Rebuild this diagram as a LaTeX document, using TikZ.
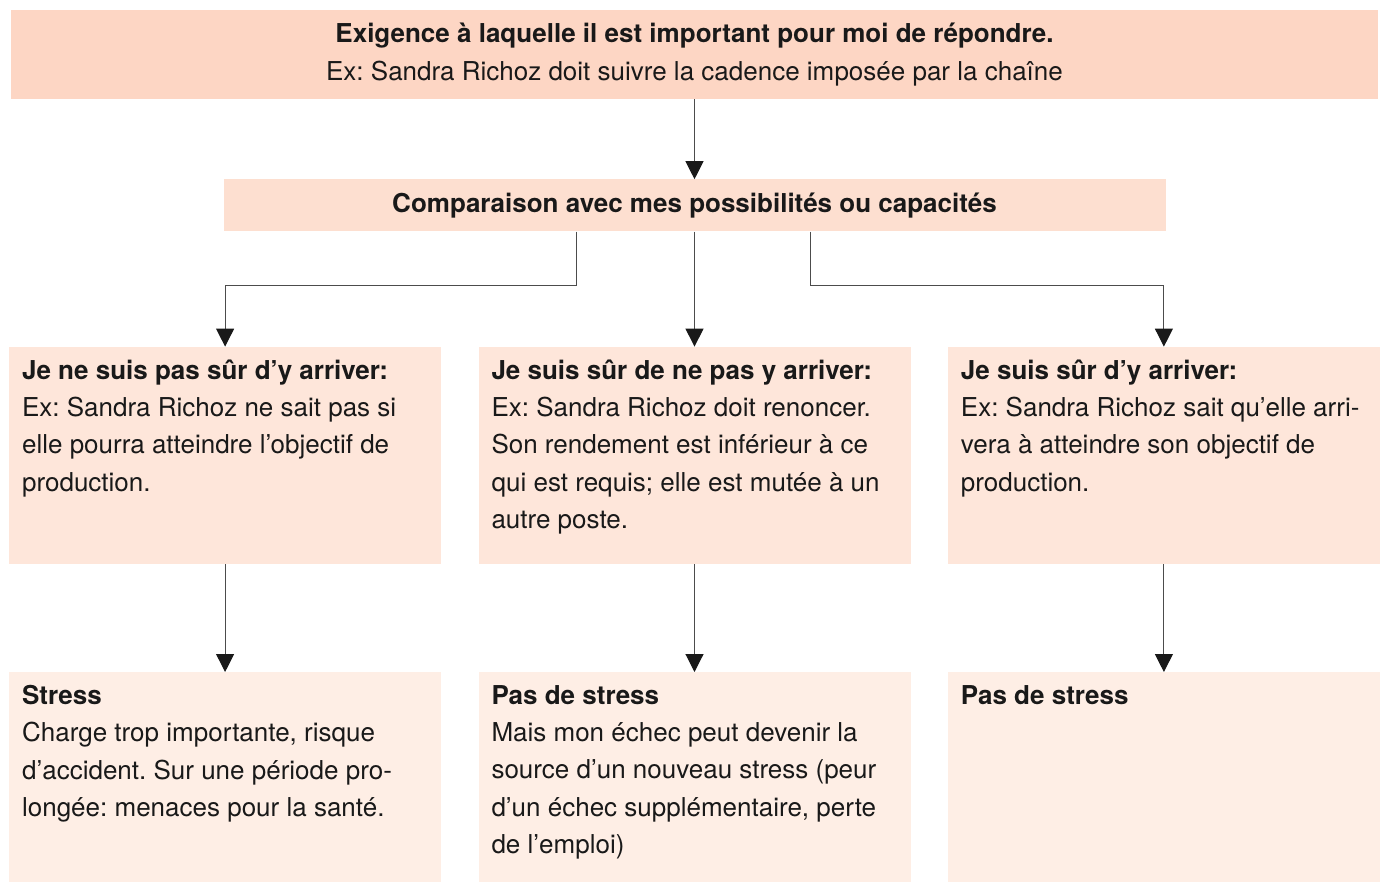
\documentclass[tikz,border=0pt]{standalone}
\usepackage{fontspec}
\setmainfont{TeX Gyre Heros}
\usetikzlibrary{arrows.meta, positioning}
\usepackage{xcolor}

\definecolor{peachTop}{HTML}{FDD6C4}
\definecolor{peachCmp}{HTML}{FDDFD0}
\definecolor{peachMid}{HTML}{FEE6DA}
\definecolor{peachLow}{HTML}{FEEEE5}

\newcommand{\celltext}[2]{\parbox[t][#1][t]{406pt}{\raggedright #2}}

\begin{document}
\frenchspacing
\begin{tikzpicture}[
    x=1pt, y=-1pt,
    every node/.style={font=\fontsize{26}{37.3}\selectfont, text=black!90},
    box/.style={rectangle, inner sep=0pt, align=center},
    cell/.style={rectangle, inner xsep=13pt, inner ysep=13pt, minimum width=432pt},
    arrow/.style={-{Triangle[length=18pt, width=18pt, color=black!90]}, line width=1.1pt, draw=black!70}
]
\useasboundingbox (0,0) rectangle (1384,881);

% Exigence et comparaison
\node[box, fill=peachTop, minimum width=1367pt, minimum height=89pt] (demand) at (694.5,54.5)
    {\textbf{Exigence à laquelle il est important pour moi de répondre.}\\
     Ex: Sandra Richoz doit suivre la cadence imposée par la chaîne};
\node[box, fill=peachCmp, minimum width=942pt, minimum height=52pt, below=80pt of demand] (compare)
    {\textbf{Comparaison avec mes possibilités ou capacités}};

% Evaluations
\node[cell, fill=peachMid, below=115pt of compare] (sureNot) {\celltext{191pt}{%
    \textbf{Je suis sûr de ne pas y arriver:}\\
    Ex: Sandra Richoz doit renoncer.\\
    Son rendement est inférieur à ce\\
    qui est requis; elle est mutée à un\\
    autre poste.}};
\node[cell, fill=peachMid, left=37pt of sureNot] (unsure) {\celltext{191pt}{%
    \textbf{Je ne suis pas sûr d’y arriver:}\\
    Ex: Sandra Richoz ne sait pas si\\
    elle pourra atteindre l’objectif de\\
    production.}};
\node[cell, fill=peachMid, right=37pt of sureNot] (sure) {\celltext{191pt}{%
    \textbf{Je suis sûr d’y arriver:}\\
    Ex: Sandra Richoz sait qu’elle arri-\\
    vera à atteindre son objectif de\\
    production.}};

% Consequences
\node[cell, fill=peachLow, below=108pt of unsure] (stress) {\celltext{184pt}{%
    \textbf{Stress}\\
    Charge trop importante, risque\\
    d’accident. Sur une période pro-\\
    longée: menaces pour la santé.}};
\node[cell, fill=peachLow, below=108pt of sureNot] (noStressA) {\celltext{184pt}{%
    \textbf{Pas de stress}\\
    Mais mon échec peut devenir la\\
    source d’un nouveau stress (peur\\
    d’un échec supplémentaire, perte\\
    de l’emploi)}};
\node[cell, fill=peachLow, below=108pt of sure] (noStressB) {\celltext{184pt}{%
    \textbf{Pas de stress}}};

% Fleches
\draw[arrow] (demand) -- (compare);
\draw[arrow] ([xshift=-118pt]compare.south) -- ++(0,54) -| (unsure.north);
\draw[arrow] (compare) -- (sureNot);
\draw[arrow] ([xshift=116pt]compare.south) -- ++(0,54) -| (sure.north);
\draw[arrow] (unsure) -- (stress);
\draw[arrow] (sureNot) -- (noStressA);
\draw[arrow] (sure) -- (noStressB);

\end{tikzpicture}
\end{document}
